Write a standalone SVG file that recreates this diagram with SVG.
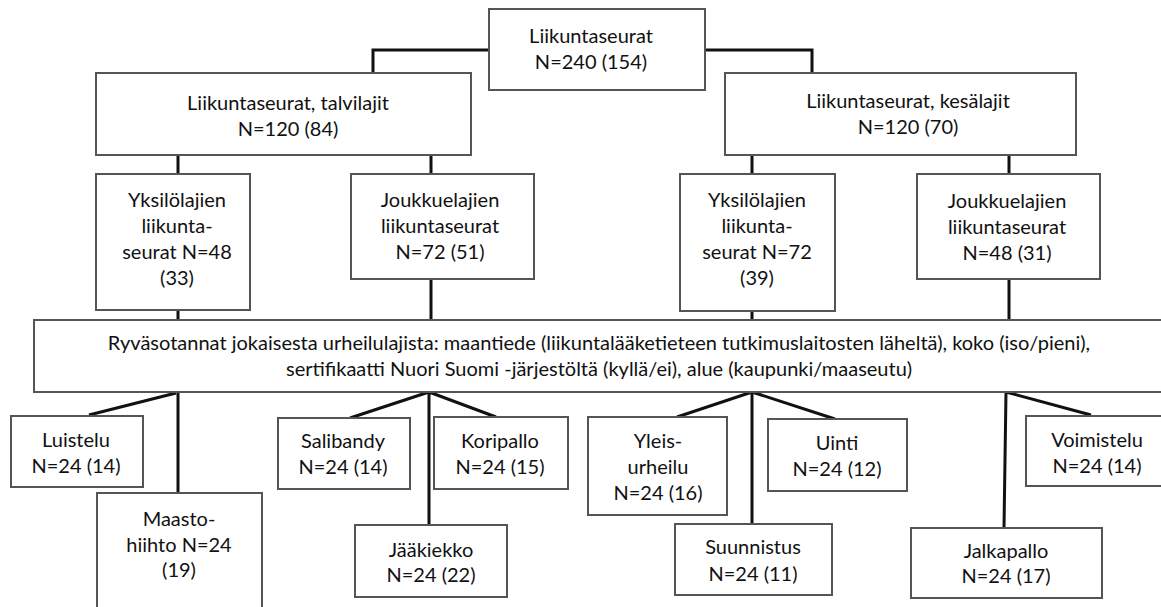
<svg xmlns="http://www.w3.org/2000/svg" width="1161" height="607" viewBox="0 0 1161 607">
<style>
.box{fill:#fff;stroke:#555;stroke-width:2}
.t{font-family:Lato,"Liberation Sans",sans-serif;font-size:20px;fill:#111;text-anchor:middle}
.c{fill:none;stroke:#111;stroke-width:3;stroke-linejoin:miter}
</style>
<rect width="1161" height="607" fill="#fff"/>
<g id="connectors">
<path class="c" d="M488,50 H373 V73"/>
<path class="c" d="M704,50 H812 V73"/>
<path class="c" d="M178,155 V174 M431,155 V174 M752,155 V174 M1009,155 V174"/>
<path class="c" d="M178,310 V320 M431,279 V320 M752,311 V320 M1009,279 V320"/>
<path class="c" d="M176,393 L89,415 M178,392 V493"/>
<path class="c" d="M429,392 L350,418 M429,392 L496,417 M429,392 V525"/>
<path class="c" d="M752,392 L677,417 M752,392 L835,419 M752,392 V524"/>
<path class="c" d="M1006,392 L1091,415 M1006,392 L1004,528"/>
</g>
<g id="n-root"><rect class="box" x="489" y="9" width="216" height="81"/><text class="t" x="591" y="43">Liikuntaseurat</text><text class="t" x="591" y="69">N=240 (154)</text></g>
<g id="n-winter"><rect class="box" x="96" y="73" width="375" height="82"/><text class="t" x="288" y="110">Liikuntaseurat, talvilajit</text><text class="t" x="288" y="136">N=120 (84)</text></g>
<g id="n-summer"><rect class="box" x="725" y="73" width="351" height="82"/><text class="t" x="908" y="108">Liikuntaseurat, kesälajit</text><text class="t" x="908" y="134">N=120 (70)</text></g>
<g id="n-w-ind"><rect class="box" x="96" y="174" width="154" height="136"/><text class="t" x="177" y="207">Yksilölajien</text><text class="t" x="177" y="233">liikunta-</text><text class="t" x="177" y="259">seurat N=48</text><text class="t" x="177" y="285">(33)</text></g>
<g id="n-w-team"><rect class="box" x="351" y="174" width="183" height="105"/><text class="t" x="440" y="207">Joukkuelajien</text><text class="t" x="440" y="233">liikuntaseurat</text><text class="t" x="440" y="259">N=72 (51)</text></g>
<g id="n-s-ind"><rect class="box" x="680" y="174" width="155" height="137"/><text class="t" x="757" y="207">Yksilölajien</text><text class="t" x="757" y="233">liikunta-</text><text class="t" x="757" y="259">seurat N=72</text><text class="t" x="757" y="285">(39)</text></g>
<g id="n-s-team"><rect class="box" x="917" y="174" width="183" height="105"/><text class="t" x="1007" y="208">Joukkuelajien</text><text class="t" x="1007" y="234">liikuntaseurat</text><text class="t" x="1007" y="260">N=48 (31)</text></g>
<g id="n-cluster"><rect class="box" x="34" y="320" width="1140" height="72"/><text class="t" x="599" y="350">Ryväsotannat jokaisesta urheilulajista: maantiede (liikuntalääketieteen tutkimuslaitosten läheltä), koko (iso/pieni),</text><text class="t" x="599" y="376">sertifikaatti Nuori Suomi -järjestöltä (kyllä/ei), alue (kaupunki/maaseutu)</text></g>
<g id="n-luistelu"><rect class="box" x="11" y="416" width="132" height="71"/><text class="t" x="76" y="447">Luistelu</text><text class="t" x="76" y="473">N=24 (14)</text></g>
<g id="n-maasto"><rect class="box" x="97" y="493" width="165" height="130"/><text class="t" x="179" y="526">Maasto-</text><text class="t" x="179" y="552">hiihto N=24</text><text class="t" x="179" y="577">(19)</text></g>
<g id="n-salibandy"><rect class="box" x="278" y="418" width="132" height="71"/><text class="t" x="343" y="448">Salibandy</text><text class="t" x="343" y="474">N=24 (14)</text></g>
<g id="n-koripallo"><rect class="box" x="434" y="417" width="134" height="72"/><text class="t" x="500" y="448">Koripallo</text><text class="t" x="500" y="474">N=24 (15)</text></g>
<g id="n-jaakiekko"><rect class="box" x="355" y="525" width="152" height="72"/><text class="t" x="431" y="557">Jääkiekko</text><text class="t" x="431" y="582">N=24 (22)</text></g>
<g id="n-yleis"><rect class="box" x="588" y="417" width="139" height="98"/><text class="t" x="658" y="448">Yleis-</text><text class="t" x="658" y="474">urheilu</text><text class="t" x="658" y="500">N=24 (16)</text></g>
<g id="n-uinti"><rect class="box" x="768" y="419" width="139" height="72"/><text class="t" x="837" y="450">Uinti</text><text class="t" x="837" y="476">N=24 (12)</text></g>
<g id="n-suunnistus"><rect class="box" x="675" y="524" width="157" height="71"/><text class="t" x="753" y="554">Suunnistus</text><text class="t" x="753" y="581">N=24 (11)</text></g>
<g id="n-jalkapallo"><rect class="box" x="911" y="528" width="191" height="70"/><text class="t" x="1006" y="558">Jalkapallo</text><text class="t" x="1006" y="583">N=24 (17)</text></g>
<g id="n-voimistelu"><rect class="box" x="1026" y="416" width="145" height="70"/><text class="t" x="1097" y="447">Voimistelu</text><text class="t" x="1097" y="473">N=24 (14)</text></g>
</svg>
